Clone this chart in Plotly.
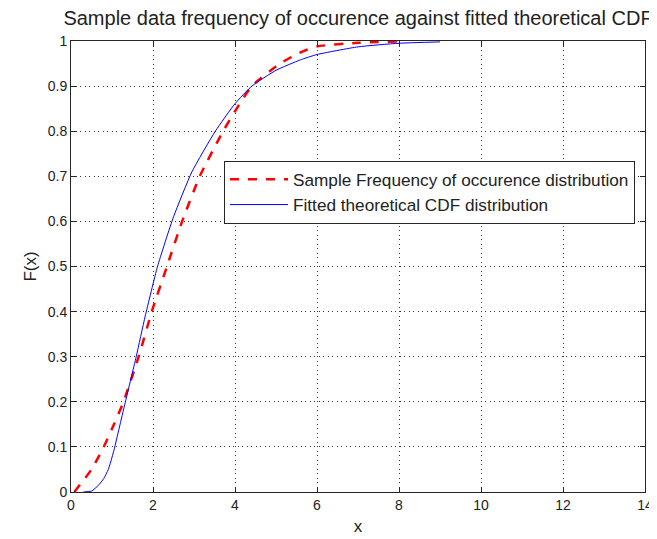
import plotly.graph_objects as go

# Sample frequency of occurrence distribution (red dashed)
sample_x = [0.08, 0.5, 0.8, 1.0, 1.28, 1.65, 1.97, 2.34, 2.71, 3.14, 3.71, 4.04, 4.41, 5.1, 5.6, 6.0, 7.0, 8.0]
sample_y = [0.0, 0.05, 0.1, 0.14, 0.2, 0.3, 0.4, 0.5, 0.6, 0.7, 0.8, 0.85, 0.9, 0.95, 0.975, 0.988, 0.996, 0.999]

# Fitted theoretical CDF (blue solid)
fit_x = [0.3, 0.5, 0.67, 0.8, 0.91, 1.04, 1.3, 1.59, 1.81, 2.11, 2.5, 2.95, 3.52, 4.0, 4.41, 5.0, 5.59, 6.0, 7.0, 8.0, 9.0]
fit_y = [0.0, 0.002, 0.015, 0.03, 0.05, 0.09, 0.19, 0.3, 0.39, 0.5, 0.61, 0.71, 0.8, 0.861, 0.9, 0.935, 0.958, 0.97, 0.987, 0.995, 0.998]

x_ticks = [0, 2, 4, 6, 8, 10, 12, 14]
y_ticks = [0, 0.1, 0.2, 0.3, 0.4, 0.5, 0.6, 0.7, 0.8, 0.9, 1]
y_tick_text = ["0", "0.1", "0.2", "0.3", "0.4", "0.5", "0.6", "0.7", "0.8", "0.9", "1"]

FONT = "Liberation Sans, Arial, sans-serif"

fig = go.Figure()
fig.add_trace(go.Scatter(
    x=sample_x, y=sample_y, mode="lines",
    name="Sample Frequency of occurence distribution",
    line=dict(color="#FF0000", width=2.5, dash="dash", shape="spline", smoothing=0.5),
))
fig.add_trace(go.Scatter(
    x=fit_x, y=fit_y, mode="lines",
    name="Fitted theoretical CDF distribution",
    line=dict(color="#0000FF", width=1, shape="spline", smoothing=0.5),
))

axis_common = dict(
    showline=True, linecolor="#262626", linewidth=1, mirror="allticks",
    ticks="inside", ticklen=5, tickcolor="#262626",
    showgrid=True, gridcolor="#333333", griddash="1px,3.5px", gridwidth=1,
    zeroline=False, automargin=False,
    tickfont=dict(family=FONT, size=14, color="#222"),
)

fig.update_layout(
    width=649, height=531,
    margin=dict(l=63, r=12, t=33, b=47),
    paper_bgcolor="white", plot_bgcolor="white",
    font=dict(family=FONT, size=14, color="#222"),
    title=dict(text="Sample data frequency of occurence against fitted theoretical CDF",
               x=0.5, xref="paper", xanchor="center",
               y=1 - 10 / 531, yref="container", yanchor="middle", automargin=False,
               font=dict(family=FONT, size=20, color="#222")),
    xaxis=dict(range=[0, 14], tickvals=x_ticks, title=dict(text="x", standoff=8), **axis_common),
    yaxis=dict(range=[0, 1], tickvals=y_ticks, ticktext=y_tick_text,
               title=dict(text="F(x)", standoff=6), **axis_common),
    legend=dict(x=0.9826, y=0.735, xanchor="right", yanchor="top",
                bgcolor="white", bordercolor="#262626", borderwidth=1,
                font=dict(family=FONT, size=17.2, color="#222"),
                tracegroupgap=0, itemwidth=58),
    showlegend=True,
)

fig.write_html("out.html")
